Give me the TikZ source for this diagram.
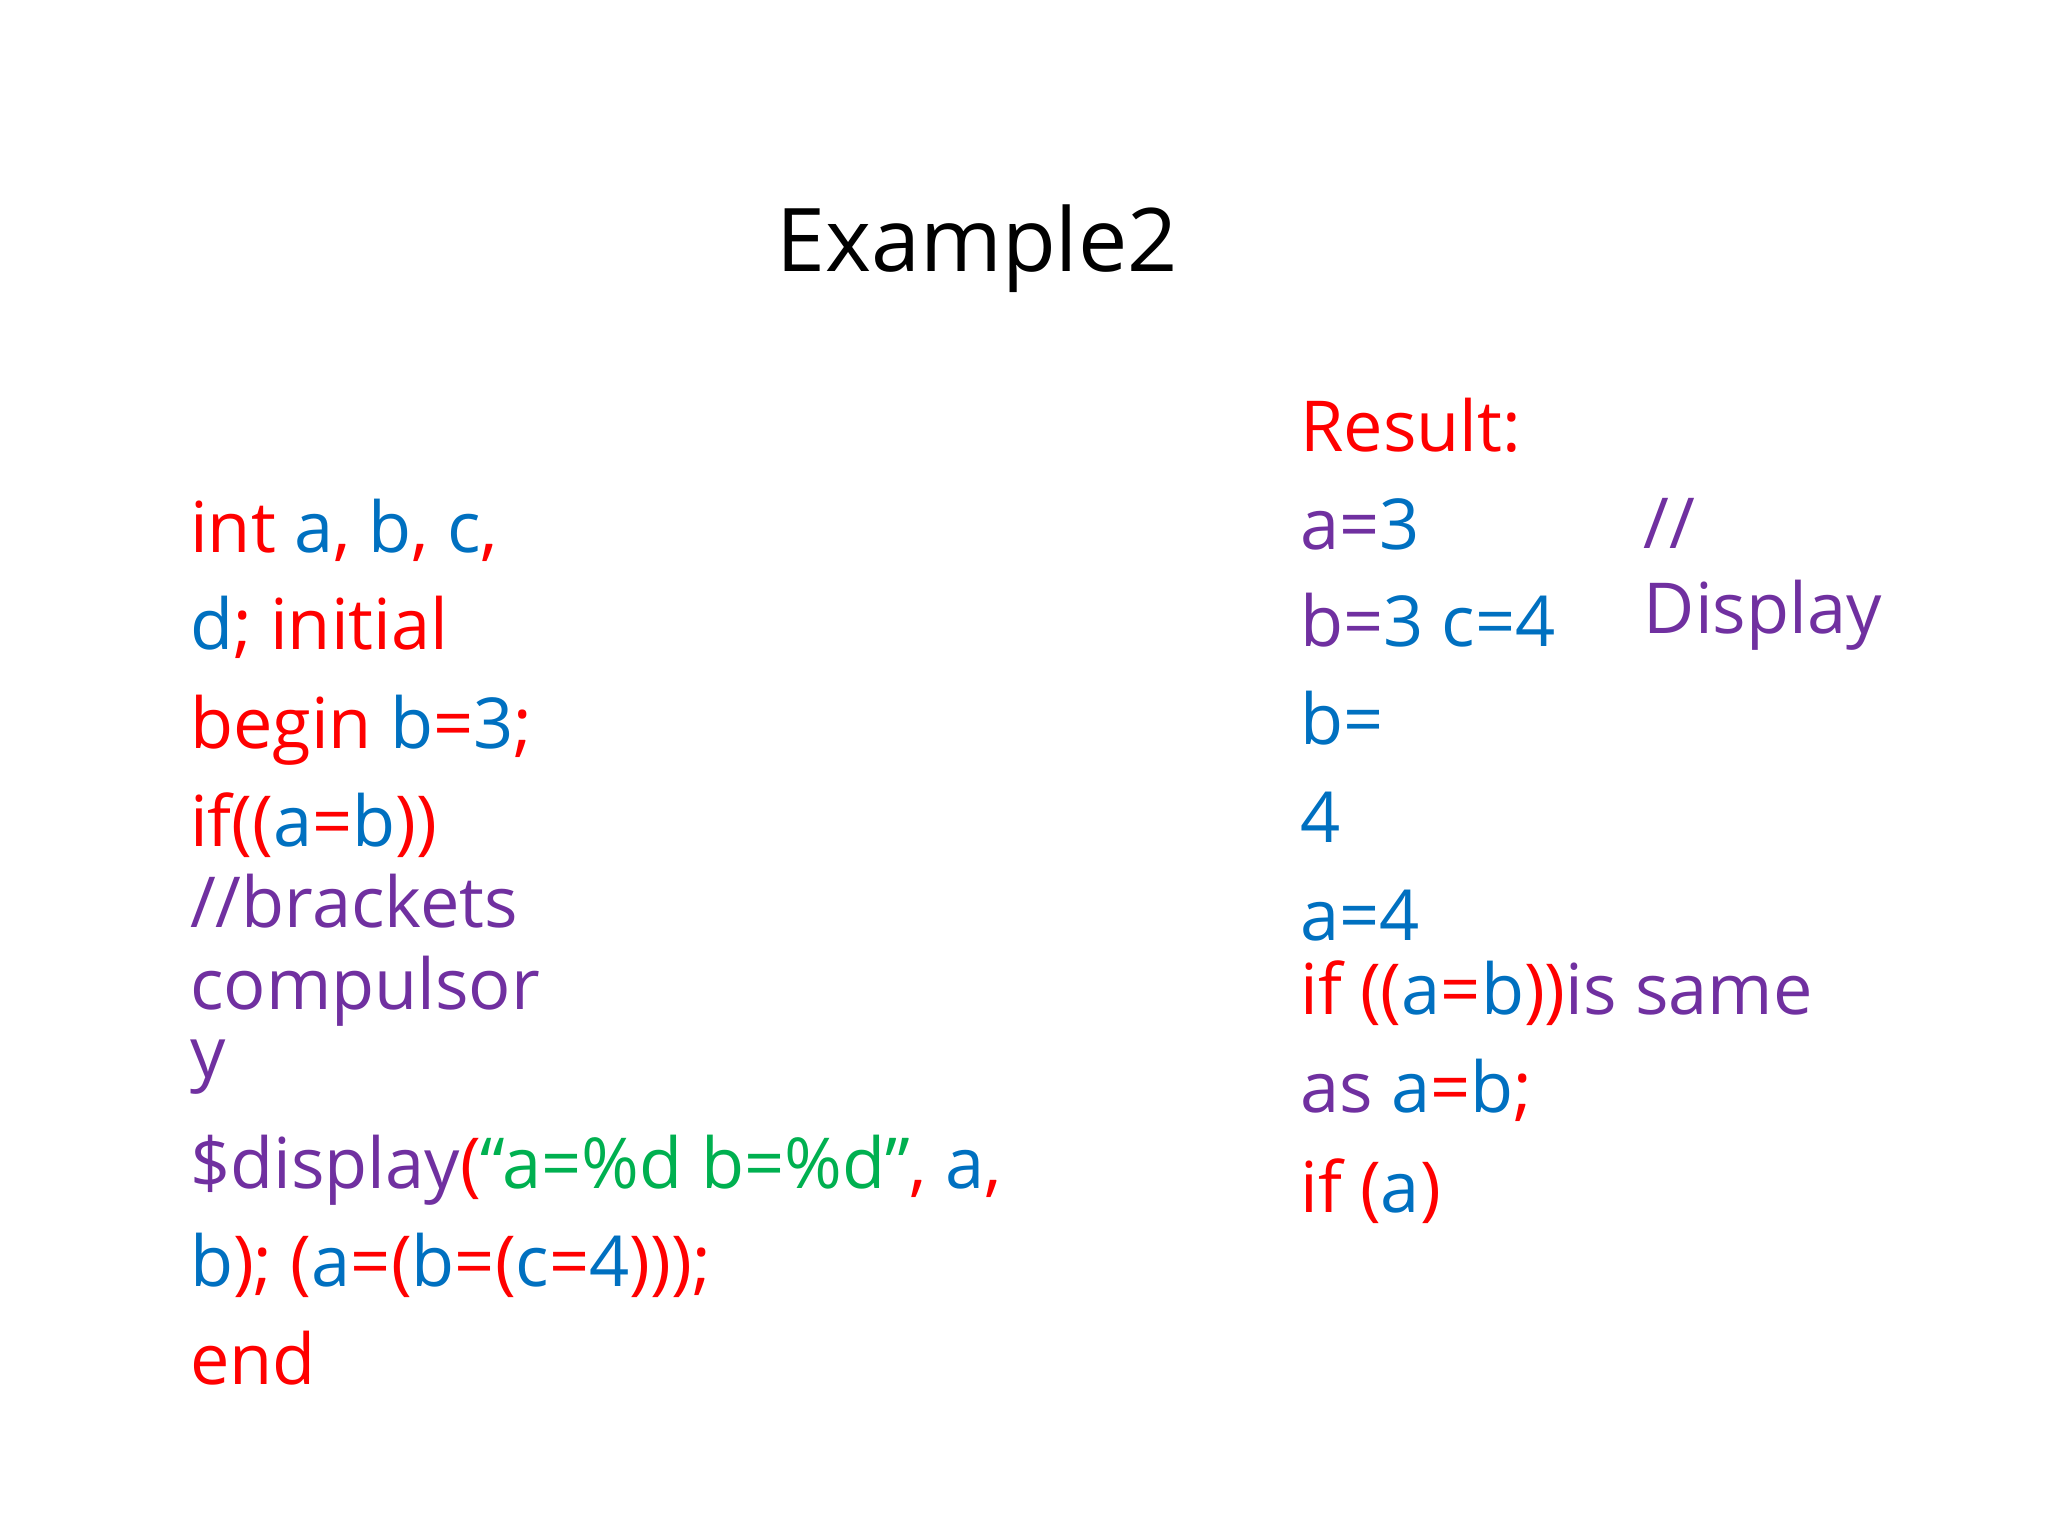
\documentclass[tikz,border=0pt]{standalone}
\usepackage{fontspec}
\setmainfont{Open Sans}
\definecolor{cr}{RGB}{255,0,0}
\definecolor{cb}{RGB}{0,112,192}
\definecolor{cp}{RGB}{112,48,160}
\definecolor{cg}{RGB}{0,176,80}
\newcommand{\R}[1]{\textcolor{cr}{#1}}
\newcommand{\B}[1]{\textcolor{cb}{#1}}
\newcommand{\PP}[1]{\textcolor{cp}{#1}}
\newcommand{\G}[1]{\textcolor{cg}{#1}}
\begin{document}
\begin{tikzpicture}[x=0.01306cm,y=-0.01306cm,
  t/.style={anchor=base west,inner sep=0pt,font=\fontsize{20}{24}\selectfont}]
\useasboundingbox (0,0) rectangle (1568,1176);
\node[anchor=base west,inner sep=0pt,font=\fontsize{25}{30}\selectfont] (title) at (594,208) {Example2};
\node[t] (l1) at (145,423) {\R{int }\B{a}\R{, }\B{b}\R{, }\B{c}\R{,}};
\node[t] (l2) at (145,497) {\B{d}\R{; initial}};
\node[t] (l3) at (145,573) {\R{begin }\B{b}\R{=}\B{3}\R{;}};
\node[t] (l4) at (145,648) {\R{if((}\B{a}\R{=}\B{b}\R{))}};
\node[t] (l5) at (145,710) {\PP{//brackets}};
\node[t] (l6) at (145,773) {\PP{compulsor}};
\node[t] (l7) at (145,825) {\PP{y}};
\node[t] (l8) at (145,910) {\PP{\$display}\R{(}\G{“a=\%d b=\%d”}\R{, }\B{a}\R{,}};
\node[t] (l9) at (145,985) {\B{b}\R{); (}\B{a}\R{=(}\B{b}\R{=(}\B{c}\R{=}\B{4}\R{)));}};
\node[t] (l10) at (145,1060) {\R{end}};
\node[t] (r0) at (995,346) {\R{Result:}};
\node[t] (r1) at (995,421) {\PP{a=}\B{3}};
\node[t] (r2) at (995,495) {\PP{b=}\B{3 c=4}};
\node[t] (r3) at (995,570) {\B{b=}};
\node[t] (r4) at (995,645) {\B{4}};
\node[t] (r5) at (995,720) {\B{a=4}};
\node[t] (r6) at (995,777) {\R{if ((}\B{a}\R{=}\B{b}\R{))}\PP{ is same}};
\node[t] (r7) at (995,852) {\PP{as }\B{a}\R{=}\B{b}\R{;}};
\node[t] (r8) at (995,928) {\R{if (}\B{a}\R{)}};
\node[t] (c1) at (1258,420) {\PP{//}};
\node[t] (c2) at (1258,485) {\PP{Display}};
\end{tikzpicture}
\end{document}
